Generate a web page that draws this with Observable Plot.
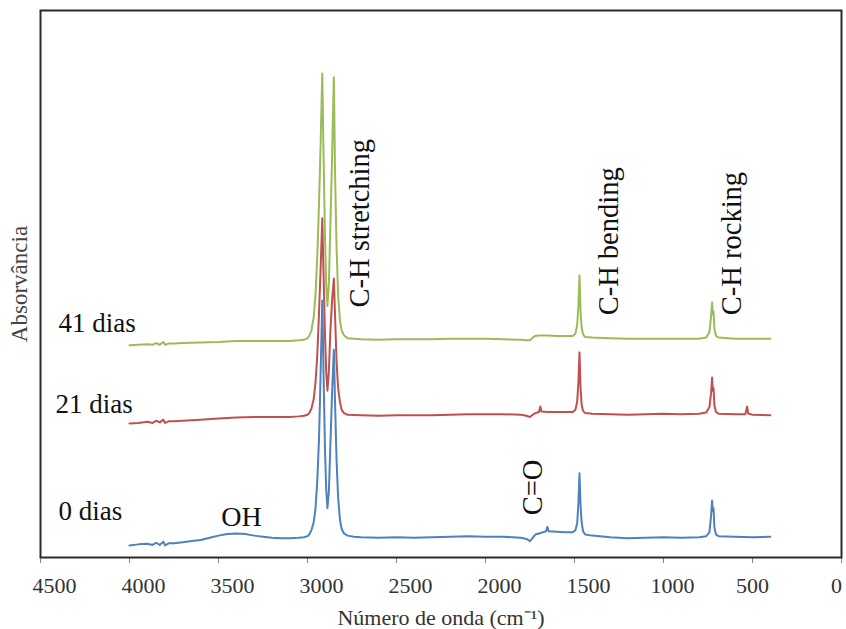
<!DOCTYPE html>
<html>
<head>
<meta charset="utf-8">
<script src="https://cdn.jsdelivr.net/npm/d3@7"></script>
<script src="https://cdn.jsdelivr.net/npm/@observablehq/plot@0.6"></script>
<style>
  html, body { margin: 0; padding: 0; background: #fff; }
  svg { display: block; }
  svg text { font-family: 'Liberation Serif', 'Times New Roman', serif; }
</style>
</head>
<body>
<div id="chart"></div>
<script>
// Series (FTIR spectra, offset) — [wavenumber cm-1, absorbance (arbitrary units)]
const seriesNames = ["0 dias", "21 dias", "41 dias"];
const seriesColors = ["#4F81BD", "#C0504D", "#9BBB59"];

const dias0 = [
  [4000,2.2],[3950,2.4],[3900,2.5],[3870,2.3],[3850,2.7],[3830,2.3],[3810,2.9],[3800,2.2],[3780,2.6],
  [3750,2.6],[3700,2.8],[3650,3.0],[3600,3.2],[3550,3.6],[3500,4.0],[3450,4.3],[3400,4.4],[3350,4.3],
  [3300,4.0],[3250,3.8],[3200,3.6],[3150,3.5],[3100,3.5],[3050,3.6],[3020,3.7],[3000,3.9],[2990,4.2],
  [2978,5.0],[2965,6.5],[2955,9],[2945,14],[2935,22],[2926,34],[2917,47],[2910,34],[2902,20],[2895,12.5],
  [2888,9.0],[2880,12],[2872,20],[2862,30],[2852,38],[2845,28],[2837,18],[2828,11],[2818,7],[2808,5.2],
  [2795,4.4],[2775,4.0],[2740,3.8],[2700,3.7],[2600,3.6],[2500,3.7],[2400,3.6],[2300,3.7],[2200,3.8],
  [2100,3.9],[2000,3.8],[1900,3.8],[1800,3.6],[1770,3.4],[1750,3.0],[1735,3.6],[1720,4.2],[1700,4.4],
  [1680,4.6],[1660,4.8],[1652,5.6],[1645,4.8],[1600,4.7],[1550,4.6],[1510,4.6],[1495,5.0],[1485,6.2],
  [1478,10],[1472,15.4],[1466,9.5],[1460,6.5],[1452,4.8],[1440,4.2],[1400,4.0],[1300,3.7],[1200,3.5],
  [1100,3.6],[1000,3.7],[900,3.6],[800,3.7],[760,3.9],[742,4.6],[733,7.5],[727,10.4],[723,8.5],[719,9.0],
  [714,5.5],[705,4.2],[690,3.9],[600,3.8],[500,3.7],[400,3.8]
];

const dias21 = [
  [4000,24.5],[3950,24.6],[3900,24.8],[3870,24.6],[3850,25.0],[3830,24.7],[3810,25.2],[3800,24.6],[3780,24.9],
  [3750,24.9],[3700,25.0],[3600,25.2],[3500,25.4],[3400,25.6],[3300,25.7],[3200,25.7],[3100,25.7],[3050,25.8],
  [3020,25.9],[3000,26.1],[2990,26.4],[2978,27.2],[2965,29],[2955,32],[2945,37],[2935,45],[2926,53],[2917,62],
  [2910,52],[2902,41],[2895,34],[2888,30.5],[2880,34],[2872,41],[2862,47],[2852,51],[2845,44],[2837,36],
  [2828,31],[2818,28.5],[2808,27],[2795,26.4],[2775,26.1],[2700,26.0],[2600,25.9],[2500,26.0],[2400,26.0],
  [2300,26.0],[2200,26.1],[2100,26.2],[2000,26.2],[1900,26.2],[1800,26.1],[1770,25.9],[1750,25.7],[1735,26.1],
  [1720,26.4],[1700,26.6],[1692,27.6],[1686,26.7],[1650,26.6],[1600,26.6],[1550,26.6],[1510,26.6],[1495,27.0],
  [1485,28.5],[1478,32],[1472,37.5],[1466,31],[1460,28],[1452,26.8],[1440,26.4],[1400,26.3],[1300,26.2],
  [1200,26.1],[1100,26.2],[1000,26.3],[900,26.2],[800,26.3],[760,26.5],[742,27.5],[733,30],[727,32.9],
  [723,30.5],[719,31],[714,27.8],[705,26.6],[690,26.3],[600,26.2],[540,26.2],[530,27.6],[524,26.3],
  [500,26.1],[400,26.0]
];

const dias41 = [
  [4000,38.8],[3950,38.9],[3900,39.0],[3870,38.9],[3850,39.2],[3830,38.9],[3810,39.4],[3800,38.9],[3780,39.1],
  [3750,39.1],[3700,39.2],[3600,39.3],[3500,39.4],[3400,39.6],[3300,39.6],[3200,39.6],[3100,39.6],[3050,39.7],
  [3020,39.8],[3000,40.1],[2990,40.5],[2978,41.5],[2965,44],[2955,48],[2945,55],[2935,65],[2926,76],[2917,88.5],
  [2910,74],[2902,59],[2895,50],[2888,46],[2880,50],[2872,60],[2862,73],[2852,87.8],[2845,70],[2837,57],
  [2828,48],[2818,43.5],[2808,41.5],[2795,40.6],[2775,40.1],[2700,39.9],[2600,39.8],[2500,39.9],[2400,39.9],
  [2300,39.9],[2200,40.0],[2100,40.0],[2000,40.0],[1900,39.9],[1800,39.8],[1770,39.7],[1750,39.7],[1735,40.2],
  [1720,40.5],[1700,40.6],[1650,40.6],[1600,40.5],[1550,40.5],[1510,40.5],[1495,40.9],[1485,42.5],[1478,46],
  [1472,51.6],[1466,45],[1460,42],[1452,40.8],[1440,40.3],[1400,40.2],[1300,40.1],[1200,40.0],[1100,40.0],
  [1000,40.0],[900,40.0],[800,40.0],[760,40.2],[742,41.2],[733,44],[727,46.6],[723,44.5],[719,45],[714,41.8],
  [705,40.5],[690,40.2],[600,40.0],[500,40.0],[400,40.0]
];

const xTicks = [4500, 4000, 3500, 3000, 2500, 2000, 1500, 1000, 500, 0];

// Text annotations: [label, wavenumber, absorbance]
const seriesLabels = [["41 dias", 4399, 41.3], ["21 dias", 4416, 26.5], ["0 dias", 4399, 6.8]];
const bandLabels = [["OH", 3371, 5.7]];
const bandLabelsRotated = [["C-H stretching", 2657, 61.1], ["C-H bending", 1258, 57.8], ["C-H rocking", 565, 57.4], ["C=O", 1685, 12.8]];

const allSeries = [dias0, dias21, dias41];
const rows = allSeries.flatMap((pts, i) => pts.map(([w, a]) => ({serie: seriesNames[i], w, a})));

const font = "'Liberation Serif', 'Times New Roman', serif";
const tickText = {tickSize: 0, tickPadding: 20, fontSize: 22, fontFamily: font, fill: "#333", label: null, tickFormat: d => String(d)};

const chart = Plot.plot({
  width: 846,
  height: 629,
  marginLeft: 40,
  marginRight: 5,
  marginTop: 10,
  marginBottom: 72,
  style: {fontFamily: font, background: "#fff", color: "#000"},
  x: {domain: [4500, 0]},
  y: {domain: [0, 100]},
  color: {domain: seriesNames, range: seriesColors},
  marks: [
    Plot.lineY(rows, {x: "w", y: "a", z: "serie", stroke: "serie", strokeWidth: 2}),
    Plot.text(seriesLabels, {x: d => d[1], y: d => d[2], text: d => d[0], textAnchor: "start", lineAnchor: "bottom", fontSize: 27, fontFamily: font, fill: "#111"}),
    Plot.text(bandLabels, {x: d => d[1], y: d => d[2], text: d => d[0], textAnchor: "middle", lineAnchor: "bottom", fontSize: 28, fontFamily: font, fill: "#111"}),
    Plot.text(bandLabelsRotated, {x: d => d[1], y: d => d[2], text: d => d[0], rotate: -90, textAnchor: "middle", lineAnchor: "bottom", fontSize: 28.5, fontFamily: font, fill: "#111"}),
    Plot.axisX({ticks: xTicks, tickFormat: () => "", tickSize: 6, stroke: "#888", fill: "#333", fontSize: 22, fontFamily: font,
      label: "Número de onda (cm⁻¹)", labelAnchor: "center", labelOffset: 67, labelArrow: "none"}),
    Plot.axisX({...tickText, ticks: xTicks.slice(0, 7), dx: 14}),
    Plot.axisX({...tickText, ticks: xTicks.slice(7, 8), dx: 9}),
    Plot.axisX({...tickText, ticks: xTicks.slice(8, 9), dx: 0}),
    Plot.axisX({...tickText, ticks: xTicks.slice(9), dx: -5}),
    Plot.axisY({ticks: [], label: "Absorvância", labelAnchor: "center", labelOffset: 30, labelArrow: "none", fontSize: 23, fontFamily: font, fill: "#444"}),
    Plot.frame({stroke: "#2a2a2a", strokeWidth: 2})
  ]
});
document.getElementById("chart").appendChild(chart);
</script>
</body>
</html>
